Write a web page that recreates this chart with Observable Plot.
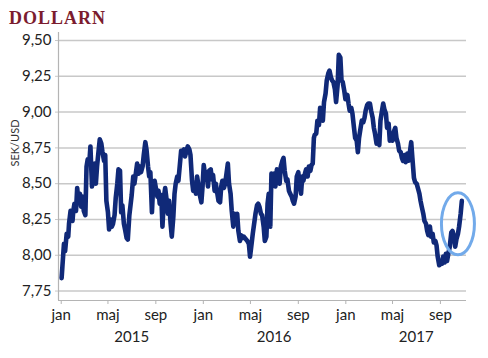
<!DOCTYPE html>
<html>
<head>
<meta charset="utf-8">
<script src="https://cdn.jsdelivr.net/npm/d3@7"></script>
<script src="https://cdn.jsdelivr.net/npm/@observablehq/plot@0.6"></script>
<style>
  body { margin: 0; background: #fff; }
  #title {
    font-family: "Liberation Serif", "DejaVu Serif", serif;
    font-weight: bold;
    font-size: 18px;
    letter-spacing: 1px;
    color: #7b1c2e;
    height: 30px;
    box-sizing: border-box;
    padding: 8px 0 0 9px;
    line-height: 21px;
  }
</style>
</head>
<body>
<div id="title">DOLLARN</div>
<div id="chart"></div>
<script>
// days since 2015-01-01
const days = [
  1,3,7,10,14,18,20,24,26,29,31,34,38,41,44,48,51,54,58,62,65,68,72,75,79,82,86,89,92,96,99,103,106,110,113,116,120,123,127,130,133,137,140,144,147,151,154,157,161,164,168,171,175,178,181,185,188,192,195,199,202,205,209,212,216,219,223,226,229,233,236,240,243,
  247,250,253,257,260,264,267,271,274,277,281,284,288,291,294,298,301,305,308,312,315,318,322,325,329,332,336,339,342,346,349,353,356,360,363,366,370,373,377,380,384,387,390,394,397,401,404,408,411,414,418,421,425,428,431,435,438,442,445,449,452,455,459,462,466,469,
  478,482,485,489,492,496,499,503,506,509,513,516,520,523,527,530,533,537,540,544,547,550,554,557,561,564,568,571,574,578,581,585,588,592,595,598,602,605,609,612,616,619,622,626,629,633,636,640,643,646,649,651,655,658,662,665,669,672,675,679,682,686,689,693,696,699,703,706,710,713,717,720,723,727,730,
  731,735,738,741,745,748,752,755,759,762,765,769,772,776,779,782,786,789,793,796,800,803,806,810,813,817,820,824,827,830,834,837,841,844,848,851,854,858,861,865,868,872,875,878,882,885,889,892,896,899,902,906,909,913,916,920,923,926,930,933,937,940,943,947,950,954,957,961,964,967,971,974,978,981,985,988,991,995,998,1002,1005,1009,1012,1015,1019,1022,1026,1029
];
// SEK per USD
const sekPerUsd = [
  7.84,7.92,8.08,8.03,8.15,8.13,8.22,8.31,8.28,8.24,8.31,8.36,8.31,8.47,8.38,8.43,8.34,8.41,8.31,8.28,8.62,8.67,8.64,8.76,8.48,8.59,8.64,8.50,8.62,8.73,8.81,8.78,8.72,8.66,8.70,8.38,8.30,8.18,8.25,8.20,8.22,8.28,8.40,8.50,8.60,8.59,8.30,8.35,8.22,8.18,8.12,8.11,8.28,8.35,8.42,8.55,8.50,8.58,8.64,8.57,8.62,8.58,8.62,8.70,8.79,8.74,8.62,8.55,8.58,8.30,8.48,8.52,8.47,
  8.41,8.45,8.36,8.42,8.20,8.41,8.47,8.38,8.29,8.38,8.22,8.13,8.27,8.43,8.50,8.55,8.52,8.64,8.73,8.72,8.74,8.69,8.73,8.76,8.74,8.70,8.52,8.45,8.50,8.43,8.55,8.48,8.42,8.37,8.48,8.63,8.55,8.58,8.48,8.59,8.60,8.53,8.56,8.45,8.50,8.43,8.38,8.37,8.48,8.52,8.47,8.50,8.58,8.64,8.50,8.43,8.31,8.20,8.29,8.22,8.29,8.17,8.10,8.14,8.12,8.13,
  8.10,8.08,7.99,8.08,8.15,8.23,8.29,8.35,8.36,8.34,8.29,8.28,8.20,8.10,8.13,8.36,8.43,8.20,8.57,8.50,8.57,8.48,8.60,8.58,8.50,8.62,8.66,8.68,8.59,8.52,8.53,8.45,8.43,8.41,8.38,8.36,8.41,8.55,8.58,8.50,8.43,8.55,8.52,8.57,8.60,8.55,8.62,8.59,8.63,8.64,8.82,8.84,8.85,8.94,8.91,9.03,9.00,8.94,9.07,9.13,9.22,9.27,9.29,9.24,9.22,9.21,9.16,9.07,9.19,9.40,9.38,9.22,9.21,9.15,9.09,
  9.10,9.12,9.06,9.01,9.03,8.99,8.89,8.82,8.80,8.72,8.82,8.89,8.94,8.93,8.96,9.01,9.05,9.06,9.06,9.01,8.96,8.89,8.85,8.78,8.80,8.77,8.94,9.01,9.06,9.02,8.99,8.89,8.92,8.80,8.82,8.80,8.86,8.89,8.82,8.78,8.73,8.72,8.68,8.66,8.70,8.65,8.71,8.66,8.73,8.79,8.68,8.54,8.51,8.50,8.47,8.43,8.38,8.34,8.29,8.24,8.22,8.17,8.14,8.20,8.13,8.15,8.09,8.10,8.07,7.99,7.93,7.96,7.94,7.99,7.95,8.01,7.96,8.02,8.06,8.16,8.17,8.13,8.06,8.11,8.15,8.20,8.29,8.38
];

const yTicks = [7.75, 8.00, 8.25, 8.50, 8.75, 9.00, 9.25, 9.50];
const monthTickDates = ["2015-01-01","2015-05-01","2015-09-01","2016-01-01","2016-05-01","2016-09-01","2017-01-01","2017-05-01","2017-09-01"];
const monthNames = ["jan","feb","mar","apr","maj","jun","jul","aug","sep","okt","nov","dec"];
const yearTickDates = ["2015-07-01","2016-07-01","2017-07-01"];
const yearLabels = ["2015","2016","2017"];
const xDomain = ["2014-12-25","2017-11-07"];
const yDomain = [7.684, 9.556];
const highlight = { date: "2017-10-16", value: 8.22 };

const parse = d3.timeParse("%Y-%m-%d");
const base = parse("2015-01-01");
const series = days.map((d, i) => ({ date: d3.timeDay.offset(base, d), value: sekPerUsd[i] }));
const monthTicks = monthTickDates.map(parse);
const yearTicks = yearTickDates.map(parse);
const xd = xDomain.map(parse);

const ellipse = {
  draw(ctx, size) {
    const rx = Math.sqrt(size / Math.PI), ry = rx * 1.88, k = 0.5523;
    ctx.moveTo(rx, 0);
    ctx.bezierCurveTo(rx, ry * k, rx * k, ry, 0, ry);
    ctx.bezierCurveTo(-rx * k, ry, -rx, ry * k, -rx, 0);
    ctx.bezierCurveTo(-rx, -ry * k, -rx * k, -ry, 0, -ry);
    ctx.bezierCurveTo(rx * k, -ry, rx, -ry * k, rx, 0);
    ctx.closePath();
  }
};

const chart = Plot.plot({
  width: 488,
  height: 328,
  marginTop: 2,
  marginLeft: 58,
  marginRight: 22,
  marginBottom: 58,
  style: { fontFamily: "Lato, 'Open Sans', sans-serif", fontSize: "15px", color: "#222", background: "#fff" },
  x: { type: "time", domain: xd },
  y: { domain: yDomain },
  marks: [
    Plot.gridY(yTicks, { stroke: "#c8c8c8", strokeOpacity: 1, strokeWidth: 1.5 }),
    Plot.ruleX([xd[0]], { stroke: "#b4b4b4", strokeWidth: 1.2 }),
    Plot.ruleY([yDomain[0]], { stroke: "#b4b4b4", strokeWidth: 1.2 }),
    Plot.axisY(yTicks, {
      tickSize: 3, tickPadding: 4, stroke: "#c8c8c8",
      tickFormat: v => v.toFixed(2).replace(".", ","), label: null
    }),
    Plot.axisX(monthTicks, {
      tickSize: 4, tickPadding: 5, stroke: "#b4b4b4",
      tickFormat: d => monthNames[d.getMonth()], label: null
    }),
    Plot.axisX(yearTicks, {
      tickSize: 0, tickPadding: 31,
      tickFormat: d => yearLabels[yearTicks.findIndex(t => +t === +d)], label: null
    }),
    Plot.text(["SEK/USD"], { frameAnchor: "left", rotate: -90, dx: -43, fontSize: 11, fill: "#333" }),
    Plot.line(series, { x: "date", y: "value", stroke: "#102978", strokeWidth: 4.6, strokeLinejoin: "round", strokeLinecap: "round" }),
    Plot.dot([highlight], { x: d => parse(d.date), y: "value", r: 16.5, symbol: ellipse, stroke: "#72aaea", strokeWidth: 3, fill: "none" })
  ]
});
document.getElementById("chart").appendChild(chart);
</script>
</body>
</html>
